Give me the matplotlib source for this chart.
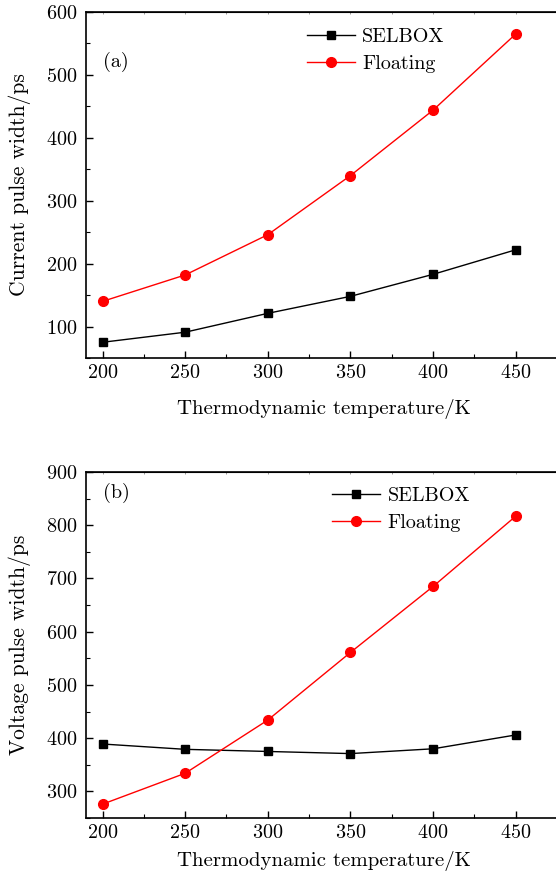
import matplotlib
matplotlib.use("Agg")
import matplotlib.pyplot as plt
from matplotlib.ticker import MultipleLocator

plt.rcParams['font.family'] = ['cmr10', 'DejaVu Serif']
plt.rcParams['axes.formatter.use_mathtext'] = True
plt.rcParams['mathtext.fontset'] = 'cm'

temps = [200, 250, 300, 350, 400, 450]
current_selbox = [75, 91, 121, 148, 183, 222]
current_floating = [140, 182, 246, 340, 444, 565]
voltage_selbox = [389, 379, 375, 371, 380, 406]
voltage_floating = [276, 334, 434, 561, 685, 817]

fig = plt.figure(figsize=(5.56, 8.77), dpi=100)
W, H = 556, 877

def make_ax(top_px, bot_px):
    left = 86 / W
    right = 562 / W
    return fig.add_axes([left, 1 - bot_px / H, right - left, (bot_px - top_px) / H])

ax1 = make_ax(12, 358)
ax2 = make_ax(472, 818)

fs = 14.5
for ax in (ax1, ax2):
    ax.set_xlim(190, 478)
    ax.xaxis.set_major_locator(MultipleLocator(50))
    ax.xaxis.set_minor_locator(MultipleLocator(25))
    ax.tick_params(which='major', direction='in', length=5, width=1.0, labelsize=fs, top=False, right=False)
    ax.tick_params(axis='x', which='major', pad=4.5)
    ax.tick_params(axis='y', which='major', pad=6)
    ax.tick_params(which='minor', direction='in', length=3, width=0.8, top=False, right=False)
    for s in ax.spines.values():
        s.set_linewidth(1.2)
    secx = ax.secondary_xaxis('top')
    secx.xaxis.set_major_locator(MultipleLocator(50))
    secx.xaxis.set_minor_locator(MultipleLocator(25))
    secx.tick_params(which='both', direction='in', length=1.5, width=0.6, labeltop=False, color='#888888')
    secx.set_xticklabels([])

ax1.set_xlabel('Thermodynamic temperature/K', fontsize=15, labelpad=12)
ax2.set_xlabel('Thermodynamic temperature/K', fontsize=15, labelpad=6)

ax1.set_ylim(50, 600)
ax1.yaxis.set_major_locator(MultipleLocator(100))
ax1.yaxis.set_minor_locator(MultipleLocator(50))
ax2.set_ylim(250, 900)
ax2.yaxis.set_major_locator(MultipleLocator(100))
ax2.yaxis.set_minor_locator(MultipleLocator(50))

ax1.plot(temps, current_selbox, color='black', lw=1.0, marker='s', ms=6, label='SELBOX')
ax1.plot(temps, current_floating, color='#ff0000', lw=1.0, marker='o', ms=7, label='Floating')
ax2.plot(temps, voltage_selbox, color='black', lw=1.0, marker='s', ms=6, label='SELBOX')
ax2.plot(temps, voltage_floating, color='#ff0000', lw=1.0, marker='o', ms=7, label='Floating')

ax1.set_ylabel('Current pulse width/ps', fontsize=15.5)
ax2.set_ylabel('Voltage pulse width/ps', fontsize=15.5)
ax1.yaxis.set_label_coords(-0.116, 0.5)
ax2.yaxis.set_label_coords(-0.116, 0.5)

ax1.text(0.036, 0.855, '(a)', transform=ax1.transAxes, fontsize=fs, va='center')
ax2.text(0.036, 0.939, '(b)', transform=ax2.transAxes, fontsize=fs, va='center')

ax1.legend(loc='upper left', bbox_to_anchor=(0.464, 0.954), frameon=False, fontsize=fs,
           handlelength=2.4, labelspacing=0.45, handletextpad=0.35, borderpad=0, borderaxespad=0)
ax2.legend(loc='upper left', bbox_to_anchor=(0.517, 0.958), frameon=False, fontsize=fs,
           handlelength=2.4, labelspacing=0.45, handletextpad=0.35, borderpad=0, borderaxespad=0)

fig.savefig('out.png', dpi=100)
